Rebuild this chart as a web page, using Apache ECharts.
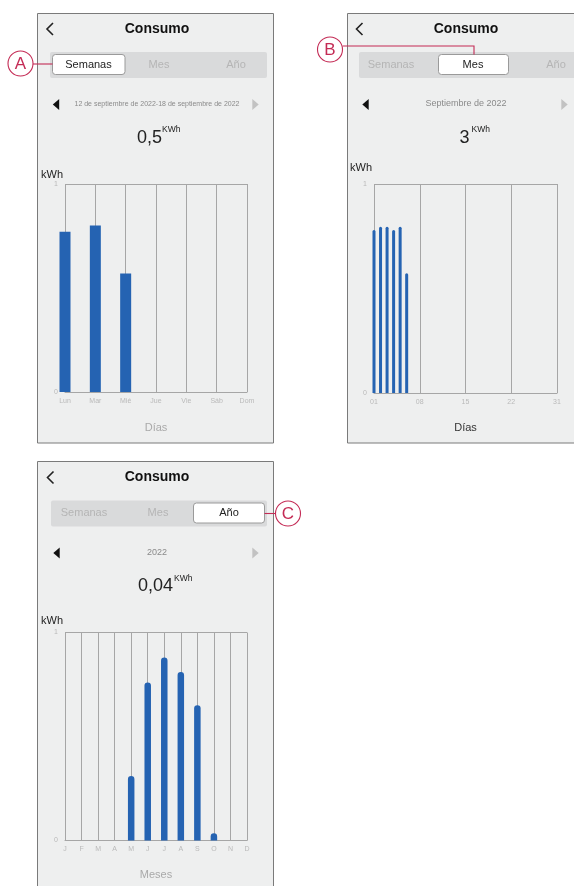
<!DOCTYPE html>
<html>
<head>
<meta charset="utf-8">
<script src="https://cdn.jsdelivr.net/npm/echarts@6/dist/echarts.min.js"></script>
<style>
html,body{margin:0;padding:0;background:#fff;}
#main{width:574px;height:886px;}
</style>
</head>
<body>
<div id="main"></div>
<script>
// ---- data ----
const weekDays = ['Lun','Mar','Mié','Jue','Vie','Sáb','Dom'];
const weekValues = [0.77, 0.80, 0.57, null, null, null, null];

const monthDays = ['01','02','03','04','05','06'];
const monthValues = [0.78, 0.795, 0.795, 0.78, 0.795, 0.573];
const monthTicks = ['01','08','15','22','31'];

const yearMonths = ['J','F','M','A','M','J','J','A','S','O','N','D'];
const yearValues = [null, null, null, null, 0.31, 0.76, 0.88, 0.81, 0.65, 0.035, null, null];

const yTicks = [0, 1];

// ---- styles ----
const FONT = "'Liberation Sans', Arial, sans-serif";
const BLUE = '#2563b2';
const GRID = '#a6a6a6';
const LIGHT = '#b9b9b9';
const RED = '#c42b55';

const chart = echarts.init(document.getElementById('main'), null, {renderer: 'canvas'});

function txt(x, y, text, size, fill, opts) {
  opts = opts || {};
  return {
    type: 'text', x: x, y: y, z: opts.z || 50,
    style: {
      text: text, fill: fill,
      font: (opts.weight || 'normal') + ' ' + size + 'px ' + FONT,
      align: opts.align || 'center', verticalAlign: 'middle'
    }
  };
}
function chevron(x, y) {
  return {type: 'polyline', z: 50, shape: {points: [[x + 3, y - 6], [x - 3, y], [x + 3, y + 6]]},
    style: {stroke: '#222', lineWidth: 1.6, fill: null}};
}
function tri(x, y, dir, color) {
  const pts = dir < 0 ? [[x - 3.2, y], [x + 3.2, y - 5.5], [x + 3.2, y + 5.5]]
                      : [[x + 3.2, y], [x - 3.2, y - 5.5], [x - 3.2, y + 5.5]];
  return {type: 'polygon', z: 50, shape: {points: pts}, style: {fill: color}};
}
function header(cx, top, selIdx, segX, segW, selBox, labelsX, arrowL, arrowR, sub, big, bigX, supX) {
  const els = [];
  els.push(chevron(arrowL - 6, top + 16));
  els.push(txt(cx, top + 16, 'Consumo', 14, '#111', {weight: 'bold'}));
  els.push({type: 'rect', z: 40, shape: {x: segX, y: top + 39, width: segW, height: 26, r: 2}, style: {fill: '#d9dadb'}});
  els.push({type: 'rect', z: 41, shape: {x: selBox[0], y: top + 41.5, width: selBox[1], height: 20, r: 3},
    style: {fill: '#fff', stroke: '#9a9a9a', lineWidth: 1}});
  ['Semanas', 'Mes', 'Año'].forEach(function (t, i) {
    els.push(txt(labelsX[i], top + 51.5, t, 11, i === selIdx ? '#222' : '#b5b5b5'));
  });
  els.push(tri(arrowL, top + 91.5, -1, '#111'));
  els.push(tri(arrowR, top + 91.5, 1, '#c2c2c2'));
  els.push(txt(cx, top + 91, sub[0], sub[1], '#8a8a8a'));
  els.push(txt(bigX, top + 125, big, 18, '#222'));
  els.push(txt(supX, top + 117, 'KWh', 8.5, '#222', {align: 'left'}));
  return els;
}
function marker(cx, cy, letter) {
  return [
    {type: 'circle', z: 60, shape: {cx: cx, cy: cy, r: 12.5}, style: {fill: '#fff', stroke: RED, lineWidth: 1.1}},
    txt(cx, cy + 0.5, letter, 17, RED, {z: 65})
  ];
}

let graphics = [];
// panels
graphics.push({type: 'rect', z: -10, shape: {x: 37.5, y: 13.5, width: 236, height: 429.5}, style: {fill: '#eeefef', stroke: '#7a7a7a', lineWidth: 1}});
graphics.push({type: 'rect', z: -10, shape: {x: 347.5, y: 13.5, width: 260, height: 429.5}, style: {fill: '#eeefef', stroke: '#7a7a7a', lineWidth: 1}});
graphics.push({type: 'rect', z: -10, shape: {x: 37.5, y: 461.5, width: 236, height: 460}, style: {fill: '#eeefef', stroke: '#7a7a7a', lineWidth: 1}});

// headers
graphics = graphics.concat(header(157, 13, 0, 50, 217, [52.5, 72.5], [88.5, 159, 236], 56, 255.5,
  ['12 de septiembre de 2022-18 de septiembre de 2022', 7], '0,5', 149.5, 162));
graphics = graphics.concat(header(466, 13, 1, 359, 240, [438.5, 70], [391, 473, 556], 365.5, 564.5,
  ['Septiembre de 2022', 9], '3', 464.5, 471.5));
graphics = graphics.concat(header(157, 461.5, 2, 51, 216, [193.5, 71], [84, 158, 229], 56.5, 255.5,
  ['2022', 9], '0,04', 155.5, 174));

// callout markers
graphics = graphics.concat(marker(20.5, 63.5, 'A'));
graphics.push({type: 'line', z: 55, shape: {x1: 33, y1: 64, x2: 52.5, y2: 64}, style: {stroke: RED, lineWidth: 1.1}});
graphics = graphics.concat(marker(330, 49.5, 'B'));
graphics.push({type: 'polyline', z: 55, shape: {points: [[342.5, 46], [474, 46], [474, 54.5]]}, style: {stroke: RED, lineWidth: 1.1, fill: null}});
graphics = graphics.concat(marker(288, 513.5, 'C'));
graphics.push({type: 'line', z: 55, shape: {x1: 264.5, y1: 513.5, x2: 275.5, y2: 513.5}, style: {stroke: RED, lineWidth: 1.1}});

function yAx(gridIndex, gap) {
  return {
    type: 'value', gridIndex: gridIndex, min: yTicks[0], max: yTicks[yTicks.length - 1], interval: 1,
    name: 'kWh', nameLocation: 'end', nameGap: gap,
    nameTextStyle: {color: '#222', fontSize: 11, fontFamily: FONT, align: 'right', verticalAlign: 'middle', padding: [0, 2, 0, 0]},
    axisLine: {show: false}, axisTick: {show: false},
    axisLabel: {color: LIGHT, fontSize: 7, fontFamily: FONT, margin: 7},
    splitLine: {show: true, lineStyle: {color: GRID, width: 1}}
  };
}
function xLabel(margin) {
  return {color: LIGHT, fontSize: 7, fontFamily: FONT, margin: margin, interval: 0};
}
function xName(name, color, gap) {
  return {name: name, nameLocation: 'middle', nameGap: gap,
    nameTextStyle: {color: color, fontSize: 11, fontFamily: FONT}};
}

const option = {
  backgroundColor: '#ffffff',
  animation: false,
  textStyle: {fontFamily: FONT},
  graphic: {elements: graphics},
  grid: [
    {left: 65, top: 184, width: 182, height: 208, show: false},
    {left: 374, top: 184, width: 183, height: 209, show: false},
    {left: 65, top: 632.5, width: 182, height: 208, show: false}
  ],
  xAxis: [
    Object.assign({
      type: 'category', gridIndex: 0, data: weekDays, boundaryGap: false,
      axisLine: {show: true, lineStyle: {color: GRID}}, axisTick: {show: false},
      axisLabel: xLabel(6),
      splitLine: {show: true, interval: 0, lineStyle: {color: GRID, width: 1}}
    }, xName('Días', '#a9a9a9', 30)),
    Object.assign({
      type: 'value', gridIndex: 1, min: 0, max: 28, interval: 7,
      axisLine: {show: true, lineStyle: {color: GRID}}, axisTick: {show: false},
      axisLabel: Object.assign(xLabel(6), {formatter: function (v) { return monthTicks[Math.round(v / 7)] || ''; }}),
      splitLine: {show: true, lineStyle: {color: GRID, width: 1}}
    }, xName('Días', '#333', 29)),
    Object.assign({
      type: 'category', gridIndex: 2, data: yearMonths, boundaryGap: false,
      axisLine: {show: true, lineStyle: {color: GRID}}, axisTick: {show: false},
      axisLabel: xLabel(5),
      splitLine: {show: true, interval: 0, lineStyle: {color: GRID, width: 1}}
    }, xName('Meses', '#a9a9a9', 29))
  ],
  yAxis: [yAx(0, 9), yAx(1, 16), yAx(2, 11.5)],
  series: [
    {type: 'bar', xAxisIndex: 0, yAxisIndex: 0, data: weekValues, barWidth: 11,
      itemStyle: {color: BLUE}, z: 5},
    {type: 'bar', xAxisIndex: 1, yAxisIndex: 1,
      data: monthDays.map(function (d, i) { return [parseInt(d, 10) - 1, monthValues[i]]; }),
      barWidth: 3, itemStyle: {color: BLUE, borderRadius: [1.5, 1.5, 0, 0]}, z: 5},
    {type: 'bar', xAxisIndex: 2, yAxisIndex: 2, data: yearValues, barWidth: 6.5,
      itemStyle: {color: BLUE, borderRadius: [3.2, 3.2, 0, 0]}, z: 5}
  ]
};
chart.setOption(option);
</script>
</body>
</html>
